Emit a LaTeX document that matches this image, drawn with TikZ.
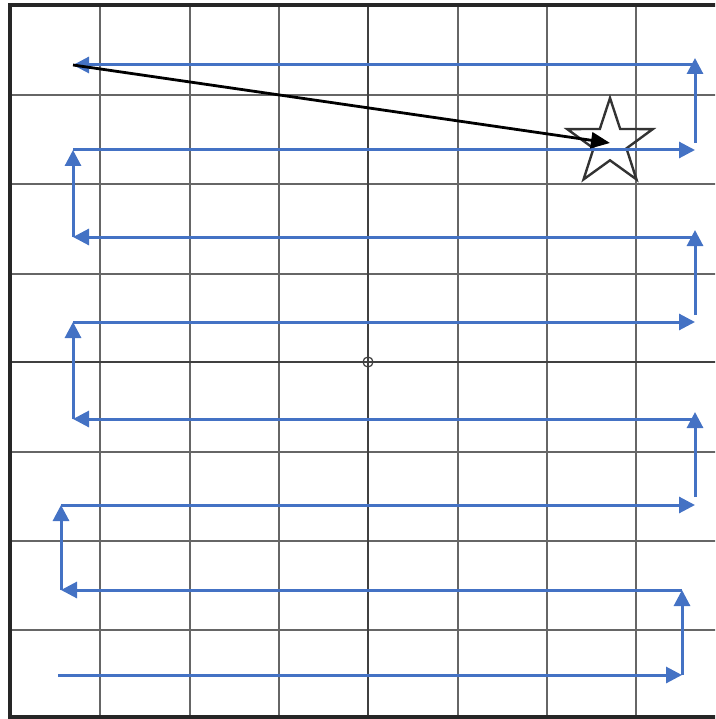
\documentclass[tikz,border=0pt]{standalone}
\usepackage{xcolor}
\usepackage{tikz}
\usetikzlibrary{arrows.meta,shapes.geometric}
\definecolor{sweepblue}{RGB}{68,114,196}

\begin{document}
\begin{tikzpicture}[
    x=1pt, y=-1pt,
    gridline/.style={draw=black!60, line width=1.6pt},
    axisline/.style={draw=black!75, line width=2.2pt},
    frameline/.style={draw=black!85, line width=4pt},
    sweep/.style={draw=sweepblue, line width=3pt, -{Triangle[length=16pt, width=16pt]}},
    target/.style={star, star points=5, star point ratio=2.6, minimum size=90pt, inner sep=0pt, draw=black!80, line width=2.4pt},
    heading/.style={draw=black, line width=2.8pt, -{Triangle[length=19pt, width=16pt]}}
]
\useasboundingbox (0,0) rectangle (715,719);
\clip (0,0) rectangle (715,719);

% Grid
\foreach \gx in {100,190,279,458,547,636}
  \draw[gridline] (\gx,5) -- (\gx,717);
\foreach \gy in {95,184,274,452,541,630}
  \draw[gridline] (10,\gy) -- (725,\gy);
\draw[axisline] (368,5) -- (368,717);
\draw[axisline] (10,362) -- (725,362);
\draw[frameline] (10,5) rectangle (725,717);
\node[circle, draw=black!75, line width=1.2pt, minimum size=10pt, inner sep=0pt] (origin) at (368,362) {};

% Target
\node[target] (goal) at (610,143) {};

% Sweep corners
\coordinate (s0) at (58,675);
\coordinate (s1) at (682,675);
\coordinate (s2) at (682,590);
\coordinate (s3) at (61,590);
\coordinate (s4) at (61,505);
\coordinate (s5) at (695,505);
\coordinate (s6) at (695,419);
\coordinate (s7) at (73,419);
\coordinate (s8) at (73,322);
\coordinate (s9) at (695,322);
\coordinate (s10) at (695,237);
\coordinate (s11) at (73,237);
\coordinate (s12) at (73,150);
\coordinate (s13) at (695,150);
\coordinate (s14) at (695,65);
\coordinate (start) at (73,65);

% Sweep path
\draw[sweep] (s0) -- (s1);
\draw[sweep] (s1) -- (s2);
\draw[sweep] (s2) -- (s3);
\draw[sweep] (s3) -- (s4);
\draw[sweep] (s4) -- (s5);
\draw[sweep] ([yshift=8pt]s5) -- ([yshift=7pt]s6);
\draw[sweep] (s6) -- (s7);
\draw[sweep] (s7) -- (s8);
\draw[sweep] (s8) -- (s9);
\draw[sweep] ([yshift=7pt]s9) -- ([yshift=7pt]s10);
\draw[sweep] (s10) -- (s11);
\draw[sweep] (s11) -- (s12);
\draw[sweep] (s12) -- (s13);
\draw[sweep] ([yshift=7pt]s13) -- ([yshift=7pt]s14);
\draw[sweep] (s14) -- (start);

% Direct heading
\draw[heading] (start) -- (goal.center);
\end{tikzpicture}
\end{document}
